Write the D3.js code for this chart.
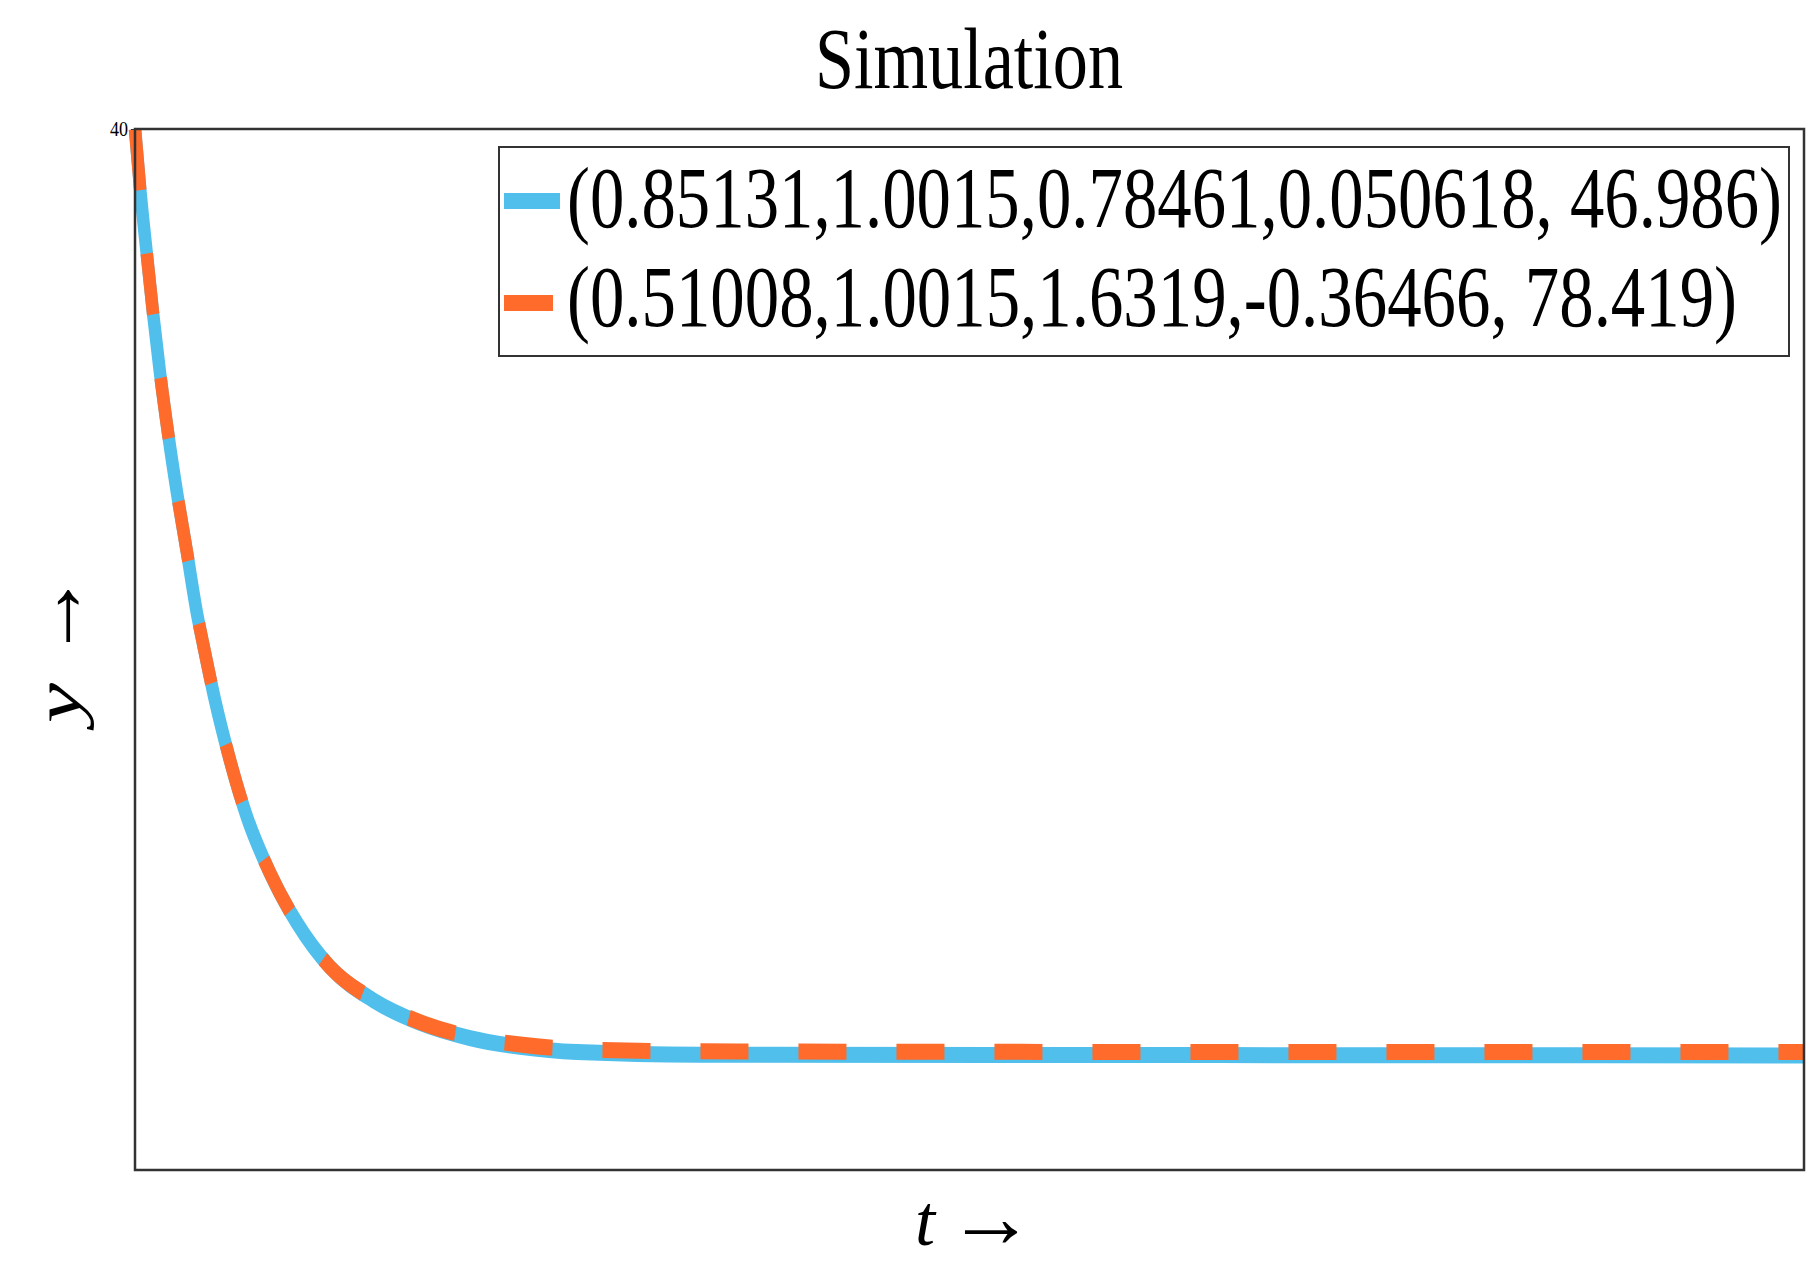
<!DOCTYPE html>
<html>
<head>
<meta charset="utf-8">
<script src="https://cdn.jsdelivr.net/npm/d3@7"></script>
<style>
  body { margin: 0; background: #fff; }
  text { font-family: "Liberation Serif", "DejaVu Serif", serif; fill: #000; }
</style>
</head>
<body>
<div id="chart"></div>
<script>
// time points (t axis has no labels, 0..100 assumed)
var times = [0, 0.3, 0.7, 1.08, 1.5, 1.98, 2.52, 3.12, 3.71, 4.07, 4.79, 5.69, 6.71, 8.09,
  9.71, 11.68, 14.26, 17.08, 20.07, 23.07, 26.48, 33.85, 51.83, 75.79, 100];
var seriesA = [40, 37.77, 35.24, 32.93, 30.62, 28.32, 26.01, 23.71, 21.4, 20.25, 18.06, 15.75,
  13.56, 11.41, 9.49, 7.8, 6.53, 5.65, 5.07, 4.73, 4.53, 4.43, 4.42, 4.41, 4.4];
var seriesB = [40, 37.77, 35.24, 32.93, 30.62, 28.32, 26.01, 23.71, 21.4, 20.25, 18.06, 15.75,
  13.56, 11.41, 9.49, 7.8, 6.55, 5.68, 5.12, 4.82, 4.64, 4.56, 4.54, 4.53, 4.53];
var labels = ["(0.85131,1.0015,0.78461,0.050618, 46.986)",
  "(0.51008,1.0015,1.6319,-0.36466, 78.419)"];
var yTicks = [40];

var w = 1814;
var h = 1261;
// plot box (note: "top" is taken by window.top, so use other names)
var pLeft = 135, pRight = 1804, pTop = 129, pBottom = 1170;
var sy = 1.28; // the original picture is stretched vertically

var svg = d3.select("#chart").append("svg").attr("width", w).attr("height", h);

var x = d3.scaleLinear().domain([0, 100]).range([pLeft, pRight]);
var y = d3.scaleLinear().domain([0, 40]).range([pBottom, pTop]);

function rows(vals) {
  return times.map(function (t, i) { return { t: t, v: vals[i] }; });
}

var line = d3.line()
  .x(function (d) { return x(d.t); })
  .y(function (d) { return y(d.v) / sy; })
  .curve(d3.curveMonotoneX);

var plot = svg.append("g").attr("transform", "scale(1," + sy + ")");

plot.append("path")
  .datum(rows(seriesA))
  .attr("d", line)
  .attr("fill", "none")
  .attr("stroke", "#50BFEC")
  .attr("stroke-width", 12.5);

plot.append("path")
  .datum(rows(seriesB))
  .attr("d", line)
  .attr("fill", "none")
  .attr("stroke", "#FF6B2B")
  .attr("stroke-width", 12.5)
  .attr("stroke-dasharray", "48,50");

// frame
svg.append("rect")
  .attr("x", pLeft).attr("y", pTop)
  .attr("width", pRight - pLeft).attr("height", pBottom - pTop)
  .attr("fill", "none").attr("stroke", "#333").attr("stroke-width", 2.5);

// y axis, only one tick
var yAxis = svg.append("g")
  .attr("transform", "translate(" + pLeft + ",0)")
  .call(d3.axisLeft(y).tickValues(yTicks).tickSize(4).tickPadding(3));
yAxis.select(".domain").remove();
yAxis.selectAll("line").attr("stroke", "#333");
yAxis.selectAll("text")
  .attr("font-family", "Liberation Serif")
  .attr("font-size", "21px")
  .attr("fill", "#222")
  .attr("textLength", 18)
  .attr("lengthAdjust", "spacingAndGlyphs");

// title
svg.append("text")
  .attr("x", 815).attr("y", 88)
  .attr("font-size", "86px")
  .attr("textLength", 308)
  .attr("lengthAdjust", "spacingAndGlyphs")
  .text("Simulation");

// x label
svg.append("text")
  .attr("x", 915).attr("y", 1245)
  .attr("font-size", "72px")
  .attr("font-style", "italic")
  .text("t");
svg.append("text")
  .attr("x", 991).attr("y", 1247)
  .attr("text-anchor", "middle")
  .attr("font-family", "DejaVu Sans")
  .attr("font-size", "88px")
  .text("\u2192");

// y label (rotated)
var yl = svg.append("g").attr("transform", "rotate(-90)");
yl.append("text")
  .attr("x", -723).attr("y", 80)
  .attr("font-size", "66px")
  .attr("font-style", "italic")
  .attr("textLength", 40)
  .attr("lengthAdjust", "spacingAndGlyphs")
  .text("y");
yl.append("text")
  .attr("x", -616).attr("y", 83)
  .attr("text-anchor", "middle")
  .attr("font-family", "DejaVu Sans")
  .attr("font-size", "88px")
  .text("\u2192");

// legend
var legend = svg.append("g");
legend.append("rect")
  .attr("x", 499).attr("y", 147).attr("width", 1290).attr("height", 209)
  .attr("fill", "#fff").attr("stroke", "#333").attr("stroke-width", 2);

legend.append("line")
  .attr("x1", 504).attr("x2", 560).attr("y1", 201).attr("y2", 201)
  .attr("stroke", "#50BFEC").attr("stroke-width", 16);
legend.append("line")
  .attr("x1", 504).attr("x2", 553).attr("y1", 303).attr("y2", 303)
  .attr("stroke", "#FF6B2B").attr("stroke-width", 16);

legend.append("text")
  .attr("x", 567).attr("y", 227)
  .attr("font-size", "87px")
  .attr("textLength", 1215)
  .attr("lengthAdjust", "spacingAndGlyphs")
  .text(labels[0]);
legend.append("text")
  .attr("x", 567).attr("y", 326)
  .attr("font-size", "87px")
  .attr("textLength", 1170)
  .attr("lengthAdjust", "spacingAndGlyphs")
  .text(labels[1]);
</script>
</body>
</html>
